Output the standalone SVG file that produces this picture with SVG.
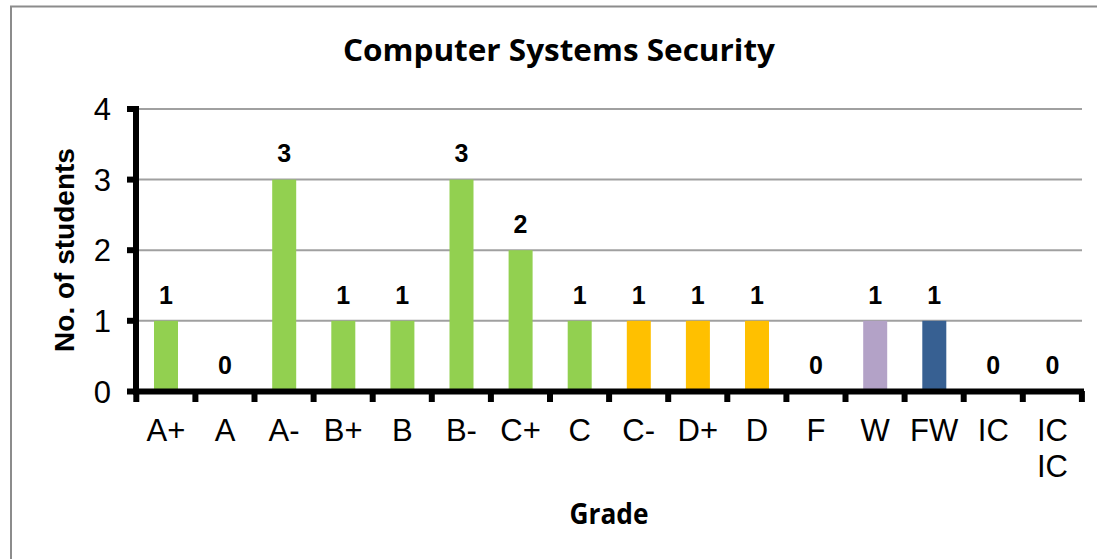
<svg xmlns="http://www.w3.org/2000/svg" width="1097" height="559" viewBox="0 0 1097 559">
<style>
.grid{stroke:#a0a0a0;stroke-width:2}
.axis{stroke:#000;stroke-width:6}
.tick{stroke:#000;stroke-width:6}
.tl{font-family:"Liberation Sans",Arial,sans-serif;font-size:31px;fill:#000}
.cat{font-family:"Liberation Sans",Arial,sans-serif;font-size:31px;fill:#000;text-anchor:middle}
.val{font-family:"Liberation Sans",Arial,sans-serif;font-size:25px;font-weight:bold;fill:#000;text-anchor:middle}
.g{fill:#92d050}.y{fill:#ffc000}.p{fill:#b3a2c7}.b{fill:#376092}
.ttl{font-family:"Open Sans","Noto Sans",sans-serif;font-weight:bold;fill:#000;text-anchor:middle}
</style>
<rect x="0" y="0" width="1097" height="559" fill="#fff"/>
<rect id="frame" x="11" y="6.5" width="1100" height="580" fill="none" stroke="#8c8c8c" stroke-width="2"/>
<g id="title"><text class="ttl" x="559" y="61" font-size="31" textLength="432" lengthAdjust="spacingAndGlyphs">Computer Systems Security</text></g>
<g id="gridlines">
<line class="grid" x1="136" y1="109" x2="1082" y2="109"/>
<line class="grid" x1="136" y1="179.6" x2="1082" y2="179.6"/>
<line class="grid" x1="136" y1="250.2" x2="1082" y2="250.2"/>
<line class="grid" x1="136" y1="320.8" x2="1082" y2="320.8"/>
</g>
<g id="bars">
<rect class="g" x="154" y="320.8" width="24" height="70"/>
<rect class="g" x="272.2" y="179.6" width="24" height="211"/>
<rect class="g" x="331.3" y="320.8" width="24" height="70"/>
<rect class="g" x="390.4" y="320.8" width="24" height="70"/>
<rect class="g" x="449.5" y="179.6" width="24" height="211"/>
<rect class="g" x="508.6" y="250.2" width="24" height="141"/>
<rect class="g" x="567.7" y="320.8" width="24" height="70"/>
<rect class="y" x="626.8" y="320.8" width="24" height="70"/>
<rect class="y" x="685.9" y="320.8" width="24" height="70"/>
<rect class="y" x="745" y="320.8" width="24" height="70"/>
<rect class="p" x="863.2" y="320.8" width="24" height="70"/>
<rect class="b" x="922.3" y="320.8" width="24" height="70"/>
</g>
<g id="axes">
<line class="axis" x1="136" y1="106" x2="136" y2="394.5"/>
<line class="axis" x1="133" y1="391.5" x2="1084" y2="391.5"/>
<g class="ticks">
<line class="tick" x1="127" y1="109" x2="136" y2="109"/>
<line class="tick" x1="127" y1="179.6" x2="136" y2="179.6"/>
<line class="tick" x1="127" y1="250.2" x2="136" y2="250.2"/>
<line class="tick" x1="127" y1="320.8" x2="136" y2="320.8"/>
<line class="tick" x1="127" y1="391.5" x2="136" y2="391.5"/>
<line class="tick" x1="136.3" y1="391" x2="136.3" y2="402"/>
<line class="tick" x1="195.4" y1="391" x2="195.4" y2="402"/>
<line class="tick" x1="254.5" y1="391" x2="254.5" y2="402"/>
<line class="tick" x1="313.6" y1="391" x2="313.6" y2="402"/>
<line class="tick" x1="372.7" y1="391" x2="372.7" y2="402"/>
<line class="tick" x1="431.8" y1="391" x2="431.8" y2="402"/>
<line class="tick" x1="490.9" y1="391" x2="490.9" y2="402"/>
<line class="tick" x1="550" y1="391" x2="550" y2="402"/>
<line class="tick" x1="609.1" y1="391" x2="609.1" y2="402"/>
<line class="tick" x1="668.2" y1="391" x2="668.2" y2="402"/>
<line class="tick" x1="727.3" y1="391" x2="727.3" y2="402"/>
<line class="tick" x1="786.4" y1="391" x2="786.4" y2="402"/>
<line class="tick" x1="845.5" y1="391" x2="845.5" y2="402"/>
<line class="tick" x1="904.6" y1="391" x2="904.6" y2="402"/>
<line class="tick" x1="963.7" y1="391" x2="963.7" y2="402"/>
<line class="tick" x1="1022.8" y1="391" x2="1022.8" y2="402"/>
<line class="tick" x1="1081.9" y1="391" x2="1081.9" y2="402"/>
</g>
</g>
<g id="yticklabels" class="tl" text-anchor="end">
<text x="111" y="120">4</text>
<text x="111" y="190.6">3</text>
<text x="111" y="261.2">2</text>
<text x="111" y="331.8">1</text>
<text x="111" y="402.5">0</text>
</g>
<g id="values">
<text class="val" x="165.9" y="304">1</text>
<text class="val" x="225" y="374">0</text>
<text class="val" x="284.1" y="162">3</text>
<text class="val" x="343.2" y="304">1</text>
<text class="val" x="402.3" y="304">1</text>
<text class="val" x="461.4" y="162">3</text>
<text class="val" x="520.5" y="233">2</text>
<text class="val" x="579.6" y="304">1</text>
<text class="val" x="638.7" y="304">1</text>
<text class="val" x="697.8" y="304">1</text>
<text class="val" x="756.9" y="304">1</text>
<text class="val" x="816" y="374">0</text>
<text class="val" x="875.1" y="304">1</text>
<text class="val" x="934.2" y="304">1</text>
<text class="val" x="993.3" y="374">0</text>
<text class="val" x="1052.4" y="374">0</text>
</g>
<g id="categories">
<text class="cat" x="165.9" y="441">A+</text>
<text class="cat" x="225" y="441">A</text>
<text class="cat" x="284.1" y="441">A-</text>
<text class="cat" x="343.2" y="441">B+</text>
<text class="cat" x="402.3" y="441">B</text>
<text class="cat" x="461.4" y="441">B-</text>
<text class="cat" x="520.5" y="441">C+</text>
<text class="cat" x="579.6" y="441">C</text>
<text class="cat" x="638.7" y="441">C-</text>
<text class="cat" x="697.8" y="441">D+</text>
<text class="cat" x="756.9" y="441">D</text>
<text class="cat" x="816" y="441">F</text>
<text class="cat" x="875.1" y="441">W</text>
<text class="cat" x="934.2" y="441">FW</text>
<text class="cat" x="993.3" y="441">IC</text>
<text class="cat" x="1052.4" y="441">IC</text>
<text class="cat" x="1052.4" y="477">IC</text>
</g>
<g id="ytitle"><text x="74" y="250" transform="rotate(-90 74 250)" text-anchor="middle" font-family="Liberation Sans, Arial, sans-serif" font-size="28" font-weight="bold">No. of students</text></g>
<g id="xtitle"><text class="ttl" x="609" y="524" font-size="28" textLength="79" lengthAdjust="spacingAndGlyphs">Grade</text></g>
</svg>
